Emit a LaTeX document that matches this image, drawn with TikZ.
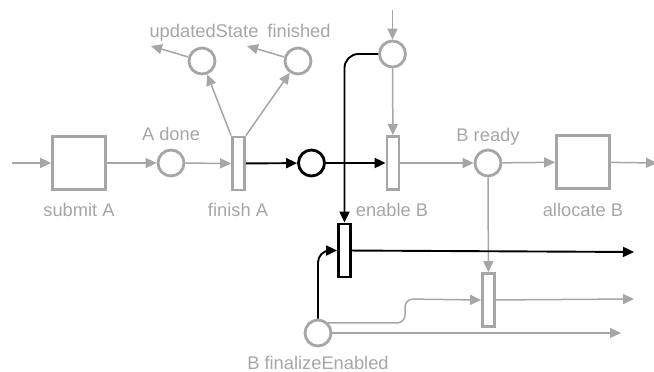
\documentclass[tikz,border=0pt]{standalone}
\usepackage{fontspec}
\setmainfont{Liberation Sans}
\usetikzlibrary{arrows.meta,positioning}
\definecolor{cGr}{HTML}{A6A6A6}
\tikzset{
  >={Triangle[length=11pt,width=10pt]},
  place/.style={circle,draw=cGr,line width=2.8pt,minimum size=26pt,inner sep=0pt},
  trans/.style={rectangle,draw=cGr,line width=2.8pt,minimum width=12pt,minimum height=53pt,inner sep=0pt},
  task/.style={rectangle,draw=cGr,line width=2.8pt,minimum size=53pt,inner sep=0pt},
  hot/.style={draw=black},
  ar/.style={->,line width=1.5pt,cGr},
  bar/.style={->,line width=1.9pt,black},
  lbl/.style={text=cGr,font=\fontsize{18.3}{20}\selectfont,anchor=base,inner sep=0pt},
}

\begin{document}
\begin{tikzpicture}[x=1pt,y=-1pt]
\useasboundingbox (0,0) rectangle (654,372);
% places, transitions, tasks
\node[task]  (sA)   at (79,163)    {};
\node[place] (pAd)  at (171,163)   {};
\node[trans] (tfA)  at (238.5,163.5) {};
\node[place] (pUpd) at (202,61)    {};
\node[place] (pFin) at (298,61)    {};
\node[place,hot] (pMid) at (311.5,163) {};
\node[place] (pTop) at (392.5,54)  {};
\node[trans] (teB)  at (393,163)   {};
\node[place] (pBr)  at (488,163)   {};
\node[task]  (aB)   at (583,162)   {};
\node[trans,hot] (tBlk) at (344.5,250.5) {};
\node[trans] (tFin) at (488.5,300) {};
\node[place] (pFe)  at (318,333)   {};
% loose ends
\coordinate (inA)   at (12,163);
\coordinate (inTop) at (392.5,10);
\coordinate (oUpd)  at (151,46);
\coordinate (oFin)  at (247,46);
\coordinate (oB)    at (657,163);
\coordinate (oBlk)  at (634,252);
\coordinate (oFn)   at (634,299);
\coordinate (oFe)   at (621,333);
% labels
\node[lbl] (lsA)  at (79,216)  {submit A};
\node[lbl] (lAd)  at (171,140) {A done};
\node[lbl] (lfA)  at (238,216) {finish A};
\node[lbl] (lUpd) at (204,37)  {updatedState};
\node[lbl] (lFin) at (299,37)  {finished};
\node[lbl] (leB)  at (392,216) {enable B};
\node[lbl] (lBr)  at (488,141) {B ready};
\node[lbl] (laB)  at (583,216) {allocate B};
\node[lbl] (lFe)  at (318,369) {B finalizeEnabled};
% grey arcs
\draw[ar] (inA) -- (sA);
\draw[ar] (sA) -- (pAd);
\draw[ar] (pAd) -- (tfA);
\draw[ar] (tfA.north west) -- (pUpd);
\draw[ar] (tfA.north east) -- (pFin);
\draw[ar] (pUpd) -- (oUpd);
\draw[ar] (pFin) -- (oFin);
\draw[ar] (inTop) -- (pTop);
\draw[ar] (pTop) -- (teB);
\draw[ar] (teB) -- (pBr);
\draw[ar] (pBr) -- (aB);
\draw[ar] (aB) -- (oB);
\draw[ar] (pBr) -- (tFin);
\draw[ar] (tFin) -- (oFn);
\draw[ar] (pFe) -- (oFe);
\draw[ar,rounded corners=8pt] (pFe.north east) -- (405,323) -- (405,299) -- (tFin.west);
% black arcs
\draw[bar] (tfA) -- (pMid);
\draw[bar] (pMid) -- (teB);
\draw[bar,rounded corners=14pt] (pTop.west) -| (tBlk.north);
\draw[bar,rounded corners=12pt] (pFe.north) |- (tBlk.west);
\draw[bar] (tBlk) -- (oBlk);
\end{tikzpicture}
\end{document}
